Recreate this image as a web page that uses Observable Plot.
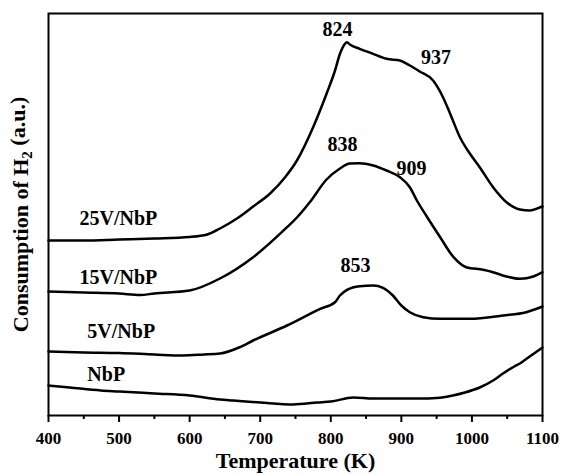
<!DOCTYPE html>
<html><head><meta charset="utf-8">
<script src="https://cdn.jsdelivr.net/npm/d3@7"></script>
<script src="https://cdn.jsdelivr.net/npm/@observablehq/plot@0.6"></script>
<style>
body{margin:0;background:#fff;}
#chart svg{display:block;}
</style></head><body><div id="chart"></div>
<script>
// Temperature (K) and H2 consumption (a.u.)
const t25 = [400,450,500,550,600,625,643,667,690,714,735,752,775,794,806,813,820,823,827,841,860,879,898,912,926,945,959,969,983,997,1011,1030,1049,1068,1082,1096,1100];
const v25 = [175,175,176,177,178.5,181,187,197,209,222,238,255,288.3,321.7,345,361.7,371.7,373.3,371,366.7,361.7,356.7,355,350,344,335,318.3,302,278.3,262,248.3,228.3,213.3,206,205,208,209];

const t15 = [400,450,500,530,550,600,643,690,738,752,771,794,813,827,841,860,879,898,912,922,936,955,974,992,1016,1030,1049,1068,1087,1100];
const v15 = [124,123,122,120.5,122,125,137,158.3,188.3,198,214,236,247,252,252.3,250,245,238.3,228.3,215,199,178.3,158.3,148.3,145.7,143.3,139,136.7,139,143.3];

const t5 = [400,450,500,550,590,620,643,670,690,738,785,806,813,823,841,860,874,888,900,912,931,955,997,1044,1077,1100];
const v5 = [64,63,62.5,61,60,61,62,68,75,90,106.7,113.3,120,125.7,129.3,130,127.7,120,110,103.3,98.3,96.7,96.7,100,103.3,109];

const t0 = [400,430,474,500,550,600,643,662,700,747,781,800,832,860,900,926,950,973,990,1011,1030,1044,1060,1068,1080,1090,1100];
const v0 = [30,28,25,24,22,20,16,15,13,11,13,14,18,17,17,17,17.5,20,23,28,35,42,49,52,58,63,68];

const seriesNames = ["25V/NbP","15V/NbP","5V/NbP","NbP"];
const labelT = [444,444,455,455];
const labelV = [197,137.5,83.5,40.5];

const peakText = ["824","838","937","909","853"];
const peakT = [809.6,816.7,949,914.4,835];
const peakV = [385.5,270.5,357.5,247,150];

const majorTicks = [400,500,600,700,800,900,1000,1100];
const minorTicks = [450,550,650,750,850,950,1050];
const xTitle = "Temperature (K)";
const yTitle = "Consumption of H2 (a.u.)";

const seriesT = [t25,t15,t5,t0];
const seriesV = [v25,v15,v5,v0];
const rows = seriesNames.flatMap((s,i)=>seriesT[i].map((t,j)=>({series:s,T:t,v:seriesV[i][j]})));
const labels = seriesNames.map((s,i)=>({text:s,T:labelT[i],v:labelV[i]}));
const peaks = peakText.map((s,i)=>({text:s,T:peakT[i],v:peakV[i]}));

const FONT = "'Liberation Serif','Times New Roman',serif";
const chart = Plot.plot({
  width: 562, height: 475,
  marginLeft: 48, marginRight: 20, marginTop: 13, marginBottom: 60,
  style: {fontFamily: FONT, fontWeight: "bold", fontSize: "17px", color: "#000", background: "#fff"},
  x: {domain: [400,1100]},
  y: {domain: [0,402], axis: null},
  marks: [
    Plot.line(rows, {x:"T", y:"v", z:"series", stroke:"#000", strokeWidth:2.5, curve:"monotone-x"}),
    Plot.frame({stroke:"#000", strokeWidth:2}),
    Plot.axisX({ticks: majorTicks, tickSize: 7, tickPadding: 9, tickFormat: d=>String(d), label: null, strokeWidth: 2, fontSize: 17, fontWeight: "bold"}),
    Plot.axisX({ticks: minorTicks, tickSize: 4, tickFormat: ()=>"", label: null, strokeWidth: 2}),
    Plot.text(labels, {x:"T", y:"v", text:"text", textAnchor:"start", fontSize:20, fontWeight:"bold"}),
    Plot.text(peaks, {x:"T", y:"v", text:"text", fontSize:20, fontWeight:"bold"}),
    Plot.text([xTitle], {text: d=>d, frameAnchor:"bottom", dy: 52, fontSize: 22, fontWeight:"bold"}),
    Plot.text([yTitle], {text: d=>d, frameAnchor:"left", textAnchor:"middle", rotate: -90, dx: -28, fontSize: 22, fontWeight:"bold"})
  ]
});
document.getElementById("chart").appendChild(chart);
// subscript the 2 in H2
d3.select(chart).selectAll("text").each(function(){
  const el = d3.select(this);
  if (el.text() === yTitle) {
    el.text(null);
    el.append("tspan").text("Consumption of H");
    el.append("tspan").attr("font-size", "15px").attr("dy", "0.3em").text("2");
    el.append("tspan").attr("dy", "-0.3em").text(" (a.u.)");
  }
});
</script></body></html>
